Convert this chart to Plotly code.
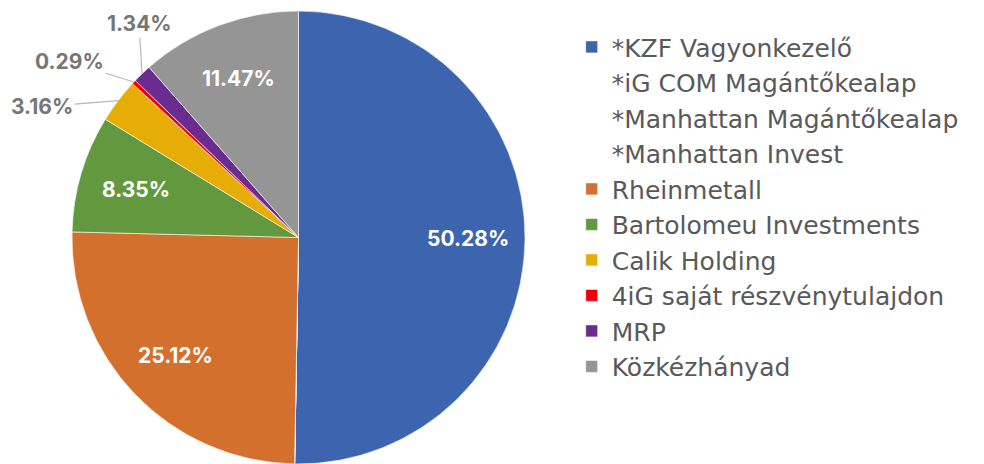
import math
import plotly.graph_objects as go

labels = ["*KZF Vagyonkezelő", "*iG COM Magántőkealap", "*Manhattan Magántőkealap",
          "*Manhattan Invest", "Rheinmetall", "Bartolomeu Investments", "Calik Holding",
          "4iG saját részvénytulajdon", "MRP", "Közkézhányad"]
values = [50.28, 0, 0, 0, 25.12, 8.35, 3.16, 0.29, 1.34, 11.47]
colors = ["#3d64ae", "rgba(0,0,0,0)", "rgba(0,0,0,0)", "rgba(0,0,0,0)", "#d4702d",
          "#62993f", "#e6ad06", "#ec0008", "#6a2c90", "#959595"]
# label offsets (px) for the small slices whose labels sit outside the pie
outside_offsets = {6: (-76, 6), 7: (-64, -20), 8: (-3, -50)}

W, H = 984, 464
cx, cy, r = 298.5, 237.5, 226.5

fig = go.Figure(go.Pie(
    labels=labels, values=values, textinfo="none", sort=False, direction="clockwise",
    marker=dict(colors=colors, line=dict(color="white", width=0.6)),
    hoverinfo="label+percent",
    domain=dict(x=[(cx - r) / W, (cx + r) / W], y=[1 - (cy + r) / H, 1 - (cy - r) / H]),
))

total = sum(values)
cum = 0.0
for i, v in enumerate(values):
    start = cum
    cum += v
    if v == 0:
        continue
    mid = math.radians((start + v / 2) / total * 360)
    txt = f"{v:.2f}%"
    if i in outside_offsets:
        px = cx + r * math.sin(mid)
        py = cy - r * math.cos(mid)
        ax, ay = outside_offsets[i]
        fig.add_annotation(x=px / W, y=1 - py / H, xref="paper", yref="paper",
                           text=txt, showarrow=True, arrowhead=0, arrowwidth=1.2,
                           arrowcolor="#b8b8b8", ax=ax, ay=ay, standoff=0,
                           font=dict(family="Inter", size=21, color="#767676", weight="bold"))
    else:
        f = 0.75
        px = cx + f * r * math.sin(mid)
        py = cy - f * r * math.cos(mid)
        fig.add_annotation(x=px / W, y=1 - py / H, xref="paper", yref="paper",
                           xanchor="center", yanchor="middle",
                           text=txt, showarrow=False,
                           font=dict(family="Inter", size=21, color="white", weight="bold"))

fig.update_layout(
    width=W, height=H,
    margin=dict(l=0, r=0, t=0, b=0),
    paper_bgcolor="white", plot_bgcolor="white",
    showlegend=True,
    legend=dict(x=0.581, y=0.948, xanchor="left", yanchor="top",
                font=dict(family="DejaVu Sans", size=25, color="#595959"),
                bgcolor="rgba(0,0,0,0)", traceorder="normal"),
)

fig.write_html("out.html", config={"displayModeBar": False},
               post_script="document.body.style.margin='0';document.body.style.overflow='hidden';")
